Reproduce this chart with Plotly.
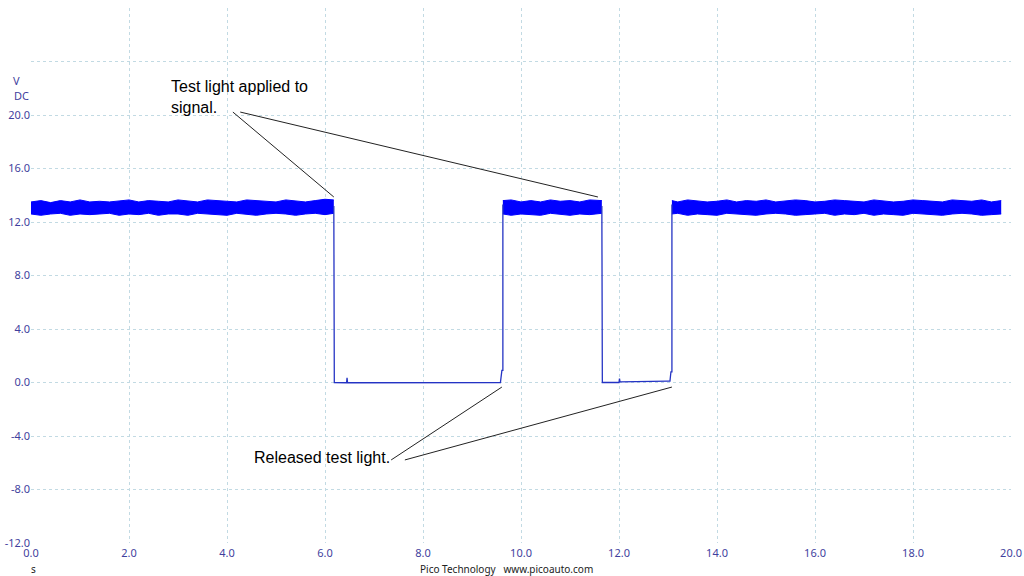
import plotly.graph_objects as go

# ---- data ----
seg1_t = [0.0,0.2,0.4,0.6,0.8,1.0,1.2,1.4,1.6,1.8,2.0,2.2,2.4,2.6,2.8,3.0,3.2,3.4,3.6,3.8,4.0,4.2,4.4,4.6,4.8,5.0,5.2,5.4,5.6,5.8,6.0,6.18]
seg1_hi = [13.5,13.6,13.45,13.6,13.5,13.65,13.5,13.55,13.5,13.6,13.65,13.5,13.6,13.55,13.5,13.65,13.6,13.5,13.65,13.6,13.55,13.5,13.65,13.6,13.55,13.5,13.65,13.6,13.5,13.6,13.7,13.65]
seg1_lo = [12.6,12.5,12.6,12.65,12.5,12.6,12.55,12.6,12.65,12.5,12.6,12.55,12.65,12.5,12.6,12.6,12.5,12.65,12.6,12.55,12.5,12.65,12.6,12.5,12.6,12.65,12.6,12.5,12.6,12.65,12.55,12.65]

seg2_t = [9.63,9.8,10.0,10.2,10.4,10.6,10.8,11.0,11.2,11.4,11.65]
seg2_hi = [13.6,13.65,13.5,13.6,13.5,13.65,13.55,13.6,13.5,13.65,13.6]
seg2_lo = [12.6,12.5,12.6,12.55,12.5,12.65,12.6,12.5,12.6,12.55,12.65]

seg3_t = [13.08,13.2,13.4,13.6,13.8,14.0,14.2,14.4,14.6,14.8,15.0,15.2,15.4,15.6,15.8,16.0,16.2,16.4,16.6,16.8,17.0,17.2,17.4,17.6,17.8,18.0,18.2,18.4,18.6,18.8,19.0,19.2,19.4,19.6,19.8]
seg3_hi = [13.6,13.5,13.65,13.6,13.5,13.55,13.65,13.5,13.6,13.55,13.65,13.5,13.6,13.65,13.6,13.5,13.55,13.65,13.6,13.55,13.5,13.65,13.6,13.5,13.55,13.65,13.6,13.55,13.5,13.65,13.6,13.55,13.65,13.5,13.6]
seg3_lo = [12.6,12.65,12.5,12.6,12.55,12.5,12.65,12.6,12.55,12.5,12.6,12.65,12.6,12.5,12.55,12.6,12.65,12.5,12.6,12.55,12.65,12.5,12.6,12.55,12.5,12.65,12.6,12.55,12.5,12.6,12.65,12.6,12.5,12.55,12.6]

low1_t = [6.18, 6.19, 6.44, 6.45, 6.46, 9.58, 9.61, 9.62, 9.63, 9.63]
low1_v = [13.2, 0.0, -0.02, 0.35, -0.02, 0.0, 0.9, 0.9, 0.9, 13.3]
low2_t = [11.65, 11.66, 12.0, 12.01, 12.02, 12.5, 13.0, 13.04, 13.06, 13.08, 13.08]
low2_v = [13.2, 0.0, 0.0, 0.3, 0.05, 0.1, 0.1, 0.1, 0.8, 0.8, 13.3]

x_ticks = [0, 2, 4, 6, 8, 10, 12, 14, 16, 18, 20]
y_ticks = [-12, -8, -4, 0, 4, 8, 12, 16, 20, 24, 28]
y_labels = ["-12.0", "-8.0", "-4.0", "0.0", "4.0", "8.0", "12.0", "16.0", "20.0", "", ""]
x_labels = ["0.0", "2.0", "4.0", "6.0", "8.0", "10.0", "12.0", "14.0", "16.0", "18.0", "20.0"]

BLUE = "#0000ff"
DARK = "#2433c4"

fig = go.Figure()
for t, lo, hi in [(seg1_t, seg1_lo, seg1_hi), (seg2_t, seg2_lo, seg2_hi), (seg3_t, seg3_lo, seg3_hi)]:
    fig.add_trace(go.Scatter(x=t, y=lo, mode="lines", line=dict(color=BLUE, width=1),
                             hoverinfo="skip", showlegend=False))
    fig.add_trace(go.Scatter(x=t, y=hi, mode="lines", line=dict(color=BLUE, width=1),
                             fill="tonexty", fillcolor=BLUE, hoverinfo="skip", showlegend=False))
for t, v in [(low1_t, low1_v), (low2_t, low2_v)]:
    fig.add_trace(go.Scatter(x=t, y=v, mode="lines", line=dict(color=DARK, width=1.3),
                             showlegend=False))

# callout lines
lines = [
    (4.12, 20.22, 6.18, 13.87),
    (4.27, 20.22, 11.57, 13.87),
    (7.35, -5.79, 9.61, -0.34),
    (7.63, -5.79, 13.08, -0.34),
]
for x0, y0, x1, y1 in lines:
    fig.add_shape(type="line", x0=x0, y0=y0, x1=x1, y1=y1, xref="x", yref="y",
                  line=dict(color="#222222", width=1))

ann_font = dict(family="Liberation Sans, Arial", size=16, color="#000000")
fig.add_annotation(x=2.82, y=22.95, xref="x", yref="y", xanchor="left", yanchor="top",
                   text="Test light applied to<br>signal.", showarrow=False, align="left",
                   font=ann_font)
fig.add_annotation(x=4.5, y=-5.64, xref="x", yref="y", xanchor="left", yanchor="middle",
                   text="Released test light.", showarrow=False, font=ann_font)

tick_font = dict(family="Noto Sans, Open Sans", size=11, color="#3f3f9e")
fig.add_annotation(x=-0.0153, y=0.865, xref="paper", yref="paper", text="V", showarrow=False,
                   font=tick_font, xanchor="center", yanchor="middle")
fig.add_annotation(x=-0.0092, y=0.836, xref="paper", yref="paper", text="DC", showarrow=False,
                   font=tick_font, xanchor="center", yanchor="middle")
fig.add_annotation(x=0.0025, y=-0.0486, xref="paper", yref="paper", text="s", showarrow=False,
                   font=dict(family="Noto Sans, Open Sans", size=10, color="#222222"),
                   xanchor="center", yanchor="middle")
fig.add_annotation(x=0.485, y=-0.0486, xref="paper", yref="paper",
                   text="Pico Technology&nbsp;&nbsp;&nbsp;www.picoauto.com", showarrow=False,
                   font=dict(family="Noto Sans, Open Sans", size=10, color="#222222"),
                   xanchor="center", yanchor="middle")

grid = dict(showgrid=True, gridcolor="#c2dae3", griddash="dot", gridwidth=1,
            zeroline=False, showline=False, ticks="", automargin=False)
fig.update_xaxes(range=[0, 20], tickvals=x_ticks, ticktext=x_labels, tickfont=tick_font,
                 ticklabelstandoff=2, **grid)
fig.update_yaxes(range=[-12, 28], tickvals=y_ticks, ticktext=y_labels, tickfont=tick_font,
                 ticklabelstandoff=0, **grid)

fig.update_layout(width=1024, height=576,
                  margin=dict(l=31, r=13, t=8, b=33, pad=0, autoexpand=False),
                  plot_bgcolor="white", paper_bgcolor="white", showlegend=False)

fig.write_html("out.html", config={"displayModeBar": False},
               post_script="document.body.style.margin='0';document.body.style.padding='0';"
                           "document.body.style.overflow='hidden';")
